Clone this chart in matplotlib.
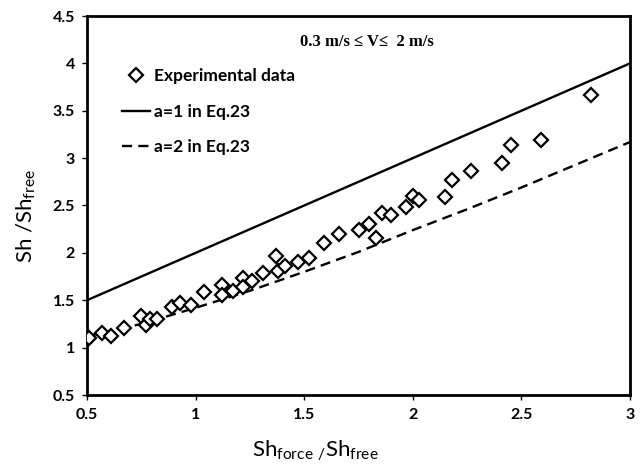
import matplotlib
matplotlib.use('Agg')
import matplotlib.pyplot as plt

# experimental points
exp_x = [0.51, 0.57, 0.61, 0.67, 0.75, 0.77, 0.79, 0.82, 0.89, 0.93, 0.98,
         1.04, 1.12, 1.12, 1.17, 1.22, 1.22, 1.26, 1.31, 1.37, 1.38, 1.41,
         1.47, 1.52, 1.59, 1.66, 1.75, 1.80, 1.83, 1.86, 1.90, 1.97, 2.00,
         2.03, 2.15, 2.18, 2.27, 2.41, 2.45, 2.59, 2.82]
exp_y = [1.10, 1.15, 1.12, 1.21, 1.33, 1.24, 1.30, 1.30, 1.43, 1.47, 1.45,
         1.59, 1.66, 1.56, 1.60, 1.74, 1.64, 1.70, 1.79, 1.97, 1.81, 1.86,
         1.90, 1.95, 2.10, 2.20, 2.24, 2.30, 2.16, 2.42, 2.40, 2.48, 2.60,
         2.56, 2.59, 2.77, 2.86, 2.95, 3.14, 3.19, 3.67]

# a=1 model line
a1_x = [0.5, 3.0]
a1_y = [1.5, 4.0]

# a=2 model curve
a2_x = [0.5, 0.75, 1.0, 1.25, 1.5, 1.75, 2.0, 2.25, 2.5, 2.75, 3.0]
a2_y = [1.12, 1.25, 1.42, 1.60, 1.80, 2.01, 2.24, 2.46, 2.69, 2.93, 3.17]

xticks = [0.5, 1, 1.5, 2, 2.5, 3]
yticks = [0.5, 1, 1.5, 2, 2.5, 3, 3.5, 4, 4.5]

plt.rcParams['font.family'] = ['Lato', 'DejaVu Sans']
plt.rcParams['mathtext.fontset'] = 'custom'
plt.rcParams['mathtext.rm'] = 'Lato'

fig = plt.figure(figsize=(6.41, 4.65), dpi=100)
ax = fig.add_axes([87 / 641, 70 / 465, 543 / 641, 379 / 465])

ax.plot(exp_x, exp_y, linestyle='none', marker='D', markersize=7,
        markerfacecolor='white', markeredgecolor='black', markeredgewidth=1.6,
        label='Experimental data', zorder=3)
ax.plot(a1_x, a1_y, color='black', linewidth=1.7, label='a=1 in Eq.23')
ax.plot(a2_x, a2_y, color='black', linewidth=1.7, dashes=(4.3, 2.6),
        label='a=2 in Eq.23')

ax.set_xlim(0.5, 3.0)
ax.set_ylim(0.5, 4.5)
ax.set_xticks(xticks)
ax.set_xticklabels([f'{t:g}' for t in xticks])
ax.set_yticks(yticks)
ax.set_yticklabels([f'{t:g}' for t in yticks])
ax.tick_params(direction='out', length=3.5, width=1, labelsize=11.5)
ax.tick_params(axis='y', pad=5)
ax.tick_params(axis='x', pad=6)
for lab in ax.get_xticklabels() + ax.get_yticklabels():
    lab.set_fontweight('bold')
for sp in ax.spines.values():
    sp.set_linewidth(2)

ax.set_xlabel(r'Sh$_{\mathrm{force\ /}}$Sh$_{\mathrm{free}}$', fontsize=16)
ax.xaxis.set_label_coords(0.42, -0.115)
ax.set_ylabel(r'Sh /Sh$_{\mathrm{free}}$', fontsize=16)
ax.yaxis.set_label_coords(-0.09, 0.472)

ax.text(0.516, 0.931, '0.3 m/s \u2264 V\u2264  2 m/s', transform=ax.transAxes,
        ha='center', va='center', fontsize=12, fontweight='bold',
        family='Liberation Serif')

leg = ax.legend(loc='upper left', bbox_to_anchor=(0.064, 0.862), frameon=False,
                borderaxespad=0, borderpad=0,
                handlelength=1.6, handletextpad=0.25, labelspacing=1.12,
                prop={'weight': 'bold', 'size': 12.5})

fig.savefig('out.png', dpi=100)
